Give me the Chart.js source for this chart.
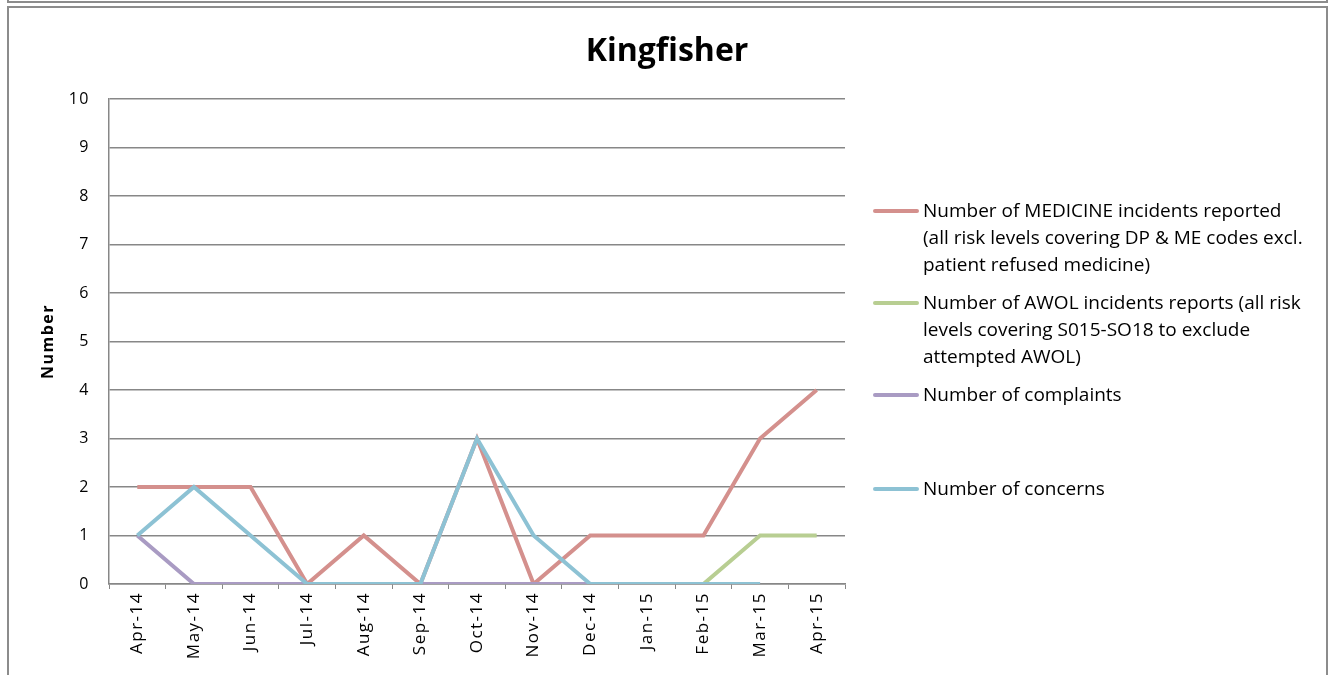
<!DOCTYPE html>
<html>
<head>
<meta charset="utf-8">
<script src="https://cdn.jsdelivr.net/npm/chart.js@4.4.1/dist/chart.umd.min.js"></script>
<style>
    html, body { margin: 0; padding: 0; background: #fff; }
    body { width: 1334px; height: 675px; position: relative; overflow: hidden; font-family: 'Open Sans', sans-serif; }
    .frame-top { position: absolute; left: 7px; top: -4px; width: 1317px; height: 5px; border: 2px solid #8c8c8c; border-top: none; }
    .frame { position: absolute; left: 7px; top: 6px; width: 1317px; height: 700px; border: 2px solid #8c8c8c; }
    #wrap { position: absolute; left: 0; top: 0; width: 1334px; height: 675px; }
    .title { position: absolute; left: 0; width: 1334px; top: 29px; text-align: center; font-size: 32px; line-height: 40px; font-weight: bold; color: #000; }
    .legend-item { position: absolute; left: 873px; }
    .legend-item .swatch { position: absolute; left: 0; top: 12px; width: 46px; height: 4px; border-radius: 2px; }
    .legend-item .text { position: absolute; left: 50px; top: 0; white-space: pre; font-size: 19px; line-height: 27px; color: #000; }
</style>
</head>
<body>
<div class="frame-top"></div>
<div class="frame"></div>
<div id="wrap"><canvas id="chart-kingfisher"></canvas></div>
<div class="title">Kingfisher</div>
<div id="legend"></div>
<script>
// Monthly figures, Apr-14 .. Apr-15
const months = ['Apr-14', 'May-14', 'Jun-14', 'Jul-14', 'Aug-14', 'Sep-14', 'Oct-14',
                'Nov-14', 'Dec-14', 'Jan-15', 'Feb-15', 'Mar-15', 'Apr-15'];

const medicineIncidents = [2, 2, 2, 0, 1, 0, 3, 0, 1, 1, 1, 3, 4];
const awolIncidents     = [null, null, null, null, null, null, null, null, null, 0, 0, 1, 1];
const complaints        = [1, 0, 0, 0, 0, 0, 0, 0, 0, 0, 0, 0, null];
const concerns          = [1, 2, 1, 0, 0, 0, 3, 1, 0, 0, 0, 0, null];

const seriesLabels = [
    'Number of MEDICINE incidents reported\n(all risk levels covering DP & ME codes excl.\npatient refused medicine)',
    'Number of AWOL incidents reports (all risk\nlevels covering S015-SO18 to exclude\nattempted AWOL)',
    'Number of complaints',
    'Number of concerns'
];

const seriesColors = ['#d4908d', '#b8ce92', '#a99bc3', '#8dc2d4'];
const legendTops = [197, 289, 381, 475];

const axisGray = '#878787';

const datasets = [medicineIncidents, awolIncidents, complaints, concerns].map((vals, i) => ({
    label: seriesLabels[i],
    data: vals,
    borderColor: seriesColors[i],
    backgroundColor: seriesColors[i],
    borderWidth: 4,
    pointRadius: 0,
    tension: 0,
    spanGaps: false,
    borderJoinStyle: 'miter',
    order: 4 - i
}));

// slightly wider letter spacing for the month labels
const spacingPlugin = {
    id: 'tickSpacing',
    beforeDraw: chart => { chart.ctx.letterSpacing = '1.5px'; },
    afterDraw: chart => { chart.ctx.letterSpacing = '0px'; }
};

new Chart(document.getElementById('chart-kingfisher'), {
    type: 'line',
    data: { labels: months, datasets: datasets },
    plugins: [spacingPlugin],
    options: {
        responsive: true,
        maintainAspectRatio: false,
        animation: false,
        layout: { padding: { top: 99, right: 489, bottom: 0, left: 0 } },
        plugins: {
            legend: { display: false },
            title: { display: false },
            tooltip: { enabled: false }
        },
        scales: {
            x: {
                offset: true,
                grid: { offset: true, drawOnChartArea: false, drawTicks: true, tickLength: 5, color: axisGray },
                border: { color: axisGray, width: 1.5 },
                ticks: {
                    color: '#000',
                    font: { family: "'Open Sans', sans-serif", size: 17 },
                    minRotation: 90,
                    maxRotation: 90,
                    padding: 3,
                    autoSkip: false
                },
                afterFit: s => { s.height = 91; }
            },
            y: {
                min: 0,
                max: 10,
                grid: { color: axisGray, lineWidth: 1.5, drawTicks: false },
                border: { color: axisGray, width: 1.5 },
                ticks: {
                    stepSize: 1,
                    color: '#000',
                    padding: 19,
                    font: { family: "'Open Sans', sans-serif", size: 16 }
                },
                title: {
                    display: true,
                    text: 'Number',
                    color: '#000',
                    padding: { top: 39, bottom: 0 },
                    font: { family: "'Open Sans', sans-serif", size: 16, weight: 'bold' }
                },
                afterFit: s => { s.width = 109; }
            }
        }
    }
});

// legend drawn beside the chart, lines keep their breaks
const legend = document.getElementById('legend');
seriesLabels.forEach((lbl, i) => {
    const item = document.createElement('div');
    item.className = 'legend-item';
    item.style.top = legendTops[i] + 'px';
    const sw = document.createElement('div');
    sw.className = 'swatch';
    sw.style.background = seriesColors[i];
    const tx = document.createElement('div');
    tx.className = 'text';
    tx.textContent = lbl;
    item.appendChild(sw);
    item.appendChild(tx);
    legend.appendChild(item);
});
</script>
</body>
</html>
